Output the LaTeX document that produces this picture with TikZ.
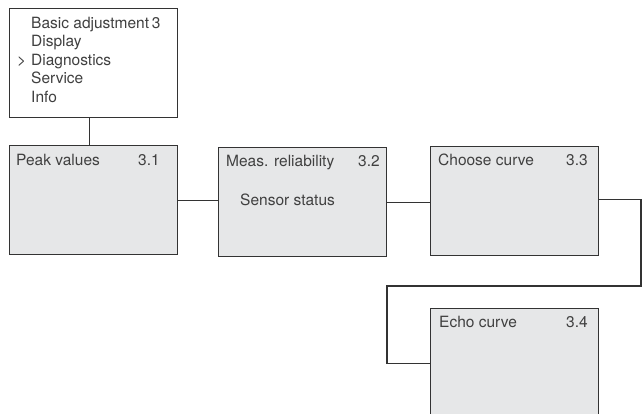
\documentclass[tikz,border=0pt]{standalone}
\usepackage{fontspec}
\setmainfont{TeX Gyre Heros}
\definecolor{boxfill}{HTML}{E6E7E8}
\definecolor{linecol}{HTML}{333333}
\definecolor{txtcol}{HTML}{404040}
\begin{document}
\begin{tikzpicture}[x=1pt,y=-1pt,
  menubox/.style={draw=linecol,line width=1.2pt,fill=white,minimum width=168pt,minimum height=109pt,inner sep=0pt,anchor=north west},
  graybox/.style={menubox,fill=boxfill},
  txt/.style={anchor=base west,inner sep=0pt,text=txtcol,font=\fontsize{15.5}{18}\selectfont},
  conn/.style={draw=linecol,line width=1.1pt}]
\useasboundingbox (0,0) rectangle (643,414);
\clip (0,0) rectangle (643,414);
\node[menubox] (menu) at (9,8) {};
\node[graybox] (peak) at (9,145) {};
\node[graybox] (meas) at (218,147) {};
\node[graybox] (choose) at (430,146) {};
\node[graybox] (echo) at (430,308) {};
% menu text
\node[txt] (m1) at (31,28.7) {Basic adjustment\hspace{-1.5pt} 3};
\node[txt] (m2) at (31,46.9) {Display};
\node[txt] (m3a) at (17,65.3) {>};
\node[txt] (m3) at (31,65.3) {Diagnostics};
\node[txt] (m4) at (31,84) {Service};
\node[txt] (m5) at (31,102.5) {Info};
% box titles
\node[txt] (t1) at (16,165.7) {Peak values};
\node[txt] (n1) at (138,165.7) {3.1};
\node[txt] (t2) at (226,166.5) {Meas. reliability};
\node[txt] (n2) at (358,166.5) {3.2};
\node[txt] (s2) at (240,206) {Sensor status};
\node[txt] (t3) at (438,166) {Choose curve};
\node[txt] (n3) at (566,166) {3.3};
\node[txt] (t4) at (439,327) {Echo curve};
\node[txt] (n4) at (566,327) {3.4};
% connectors
\draw[conn] ([xshift=-4pt]menu.south) -- ([xshift=-4pt]menu.south |- peak.north);
\draw[conn] (peak.east) -- (peak.east -| meas.west);
\draw[conn] (meas.east) -- (meas.east -| choose.west);
\coordinate (c1) at (641,0);
\coordinate (c2) at (387,286);
\draw[conn] ([yshift=1.5pt]choose.east) -- ([yshift=1.5pt]choose.east -| c1) -- (c1 |- c2) -- (c2) -- (c2 |- echo.west) -- (echo.west);
\end{tikzpicture}
\end{document}
